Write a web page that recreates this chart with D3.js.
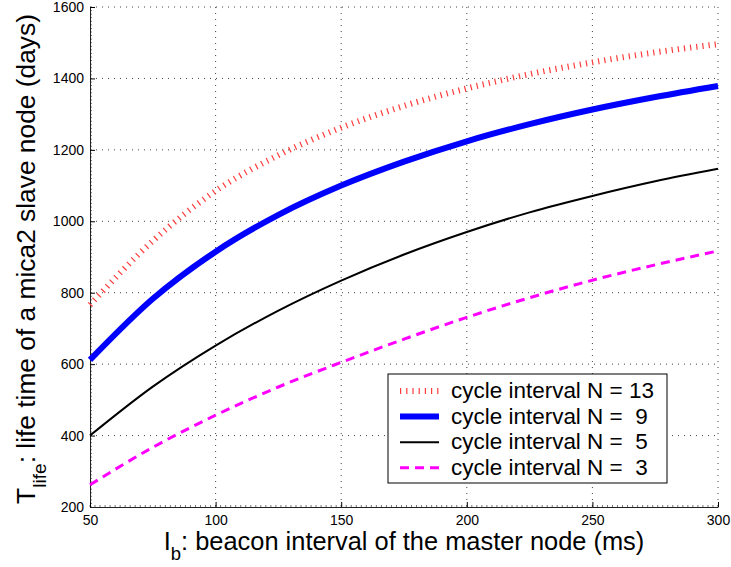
<!DOCTYPE html>
<html>
<head>
<meta charset="utf-8">
<script src="https://cdn.jsdelivr.net/npm/d3@7"></script>
<style>
  body { margin: 0; background: #fff; }
  text { font-family: "Liberation Sans", Arial, sans-serif; }
</style>
</head>
<body>
<figure id="chart" style="margin:0"></figure>
<script>
// beacon interval (ms)
const beacon = [50, 75, 100, 125, 150, 175, 200, 225, 250, 275, 300];
// life time in days
const lifeN13 = [766, 945, 1085, 1185, 1262, 1323, 1372, 1412, 1445, 1473, 1496];
const lifeN9 = [612, 783, 915, 1018, 1100, 1167, 1224, 1272, 1313, 1348, 1379];
const lifeN5 = [400, 537, 652, 750, 834, 907, 970, 1025, 1071, 1112, 1147];
const lifeN3 = [262, 367, 457, 536, 605, 670, 731, 786, 835, 878, 917];

const xTicks = [50, 100, 150, 200, 250, 300];
const yTicks = [200, 400, 600, 800, 1000, 1200, 1400, 1600];
const legendLabels = ['cycle interval N = 13', 'cycle interval N =  9', 'cycle interval N =  5', 'cycle interval N =  3'];

const width = 731;
const height = 567;
const plotL = 90, plotR = 718, plotT = 7, plotB = 507;

const svg = d3.select('#chart')
    .append('svg')
    .attr('width', width)
    .attr('height', height)
    .style('display', 'block');

const x = d3.scaleLinear().domain([50, 300]).range([plotL, plotR]);
const y = d3.scaleLinear().domain([200, 1600]).range([plotB, plotT]);

// scale a text's font so its width matches the original
function fitWidth(sel, target) {
  const fs = parseFloat(sel.style('font-size'));
  const w = sel.node().getComputedTextLength();
  const k = target / w;
  sel.style('font-size', (fs * k) + 'px');
  sel.selectAll('tspan').each(function() {
    const t = d3.select(this);
    const f = t.node().style.fontSize;
    if (f) t.style('font-size', (parseFloat(f) * k) + 'px');
    const dy = t.attr('dy');
    if (dy) t.attr('dy', parseFloat(dy) * k);
  });
}

// dotted grid
svg.append('g')
    .selectAll('line')
    .data(xTicks.slice(1))
    .enter()
    .append('line')
    .attr('x1', d => x(d)).attr('x2', d => x(d))
    .attr('y1', plotT).attr('y2', plotB)
    .attr('stroke', '#444')
    .attr('stroke-dasharray', '1,5');

svg.append('g')
    .selectAll('line')
    .data(yTicks.slice(1))
    .enter()
    .append('line')
    .attr('x1', plotL).attr('x2', plotR)
    .attr('y1', d => y(d)).attr('y2', d => y(d))
    .attr('stroke', '#444')
    .attr('stroke-dasharray', '1,5');

// minor ticks
svg.append('g')
    .selectAll('line')
    .data(d3.range(200, 1601, 10))
    .enter()
    .append('line')
    .attr('x1', plotL).attr('x2', plotL + 2)
    .attr('y1', d => y(d)).attr('y2', d => y(d))
    .attr('stroke', '#777');

svg.append('g')
    .selectAll('line')
    .data(d3.range(50, 301, 2))
    .enter()
    .append('line')
    .attr('x1', d => x(d)).attr('x2', d => x(d))
    .attr('y1', plotB).attr('y2', plotB - 2)
    .attr('stroke', '#777');

// axes
const yAxis = svg.append('g')
    .attr('transform', 'translate(' + plotL + ',0)')
    .call(d3.axisLeft(y).tickValues(yTicks).tickFormat(d3.format('d'))
        .tickSizeInner(-5).tickSizeOuter(0).tickPadding(6));

const xAxis = svg.append('g')
    .attr('transform', 'translate(0,' + plotB + ')')
    .call(d3.axisBottom(x).tickValues(xTicks).tickFormat(d3.format('d'))
        .tickSizeInner(-5).tickSizeOuter(0).tickPadding(8));

[xAxis, yAxis].forEach(a => {
  a.select('.domain').attr('stroke', '#222');
  a.selectAll('.tick line').attr('stroke', '#000');
  a.selectAll('text')
      .attr('fill', '#000')
      .style('font-size', '14px')
      .style('font-family', '"Liberation Sans", Arial, sans-serif');
});

// curves
const series = [
  {values: lifeN3, color: '#ff00ff', width: 3, dash: '9,6'},
  {values: lifeN5, color: '#000000', width: 2, dash: null},
  {values: lifeN9, color: '#0000ff', width: 6, dash: null},
  {values: lifeN13, color: '#ff3b3b', width: 6, dash: '1.2,5'},
];

const line = d3.line()
    .x((d, i) => x(beacon[i]))
    .y(d => y(d))
    .curve(d3.curveMonotoneX);

svg.append('g')
    .selectAll('path')
    .data(series)
    .enter()
    .append('path')
    .attr('d', d => line(d.values))
    .attr('fill', 'none')
    .attr('stroke', d => d.color)
    .attr('stroke-width', d => d.width)
    .attr('stroke-dasharray', d => d.dash);

// legend
const legendOrder = [series[3], series[2], series[1], series[0]];
const legend = svg.append('g').attr('transform', 'translate(388,374)');

legend.append('rect')
    .attr('width', 279)
    .attr('height', 109)
    .attr('fill', '#fff')
    .attr('stroke', '#000');

const rows = legend.selectAll('.row')
    .data(legendOrder)
    .enter()
    .append('g')
    .attr('transform', (d, i) => 'translate(0,' + (17 + i * 25.6) + ')');

rows.append('line')
    .attr('x1', 12).attr('x2', 51)
    .attr('stroke', d => d.color)
    .attr('stroke-width', d => d.width)
    .attr('stroke-dasharray', d => d.dash);

const legendText = rows.append('text')
    .attr('x', 63)
    .attr('y', 7)
    .style('font-size', '18px')
    .style('white-space', 'pre')
    .text((d, i) => legendLabels[i]);
const legendScale = 203 / legendText.nodes()[0].getComputedTextLength();
legendText.style('font-size', (18 * legendScale) + 'px');

// axis titles
const xTitle = svg.append('text')
    .attr('x', (plotL + plotR) / 2)
    .attr('y', 550)
    .attr('text-anchor', 'middle')
    .style('font-size', '22px');
xTitle.append('tspan').text('I');
xTitle.append('tspan').attr('dy', 9).style('font-size', '16px').text('b');
xTitle.append('tspan').attr('dy', -9).text(': beacon interval of the master node (ms)');
fitWidth(xTitle, 481);

const yTitle = svg.append('text')
    .attr('transform', 'translate(35,' + ((plotT + plotB) / 2 + 2) + ') rotate(-90)')
    .attr('text-anchor', 'middle')
    .style('font-size', '22px');
yTitle.append('tspan').text('T');
yTitle.append('tspan').attr('dy', 9).style('font-size', '16px').text('life');
yTitle.append('tspan').attr('dy', -9).text(': life time of a mica2 slave node (days)');
fitWidth(yTitle, 490);
</script>
</body>
</html>
